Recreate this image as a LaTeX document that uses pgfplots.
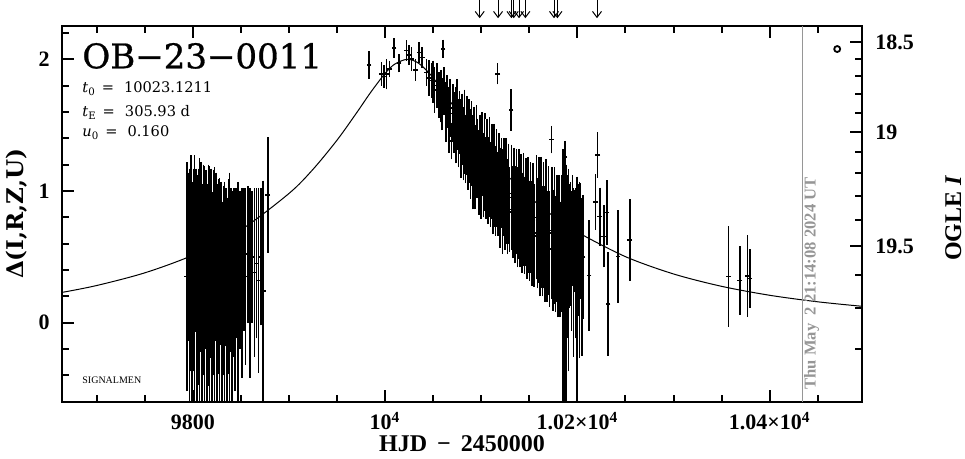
\documentclass[border=0pt]{standalone}
\usepackage{fontspec}
\setmainfont{Liberation Serif}
\newfontfamily\djs{DejaVu Serif}
\newfontfamily\djsfb[FakeBold=0.8]{DejaVu Serif}
\usepackage{pgfplots}
\usepackage{pgfplotstable}
\pgfplotsset{compat=1.18}
\usetikzlibrary{arrows.meta}
\definecolor{stampgray}{RGB}{150,150,150}

\pgfplotstableread{
x y e
9793.8 0.35 0.85
9795.2 0.50 0.62
9796.6 0.25 0.90
9798.0 0.45 0.80
9799.3 0.20 0.85
9800.6 0.40 0.75
9801.9 0.30 0.95
9803.2 0.55 0.60
9804.5 0.20 0.90
9805.8 0.35 0.80
9807.1 0.28 0.95
9808.4 0.50 0.70
9809.7 0.15 0.88
9811.0 0.40 0.78
9812.3 0.25 0.92
9813.6 0.48 0.66
9814.9 0.18 0.85
9816.2 0.36 0.82
9817.5 0.22 0.95
9818.8 0.45 0.70
9820.1 0.12 0.85
9821.4 0.38 0.76
9822.7 0.26 0.90
9824.0 0.50 0.62
9825.3 0.15 0.88
9826.6 0.35 0.72
9827.9 0.22 0.86
9829.2 0.45 0.60
9830.5 0.10 0.80
9831.8 0.32 0.70
9833.1 0.20 0.85
9834.4 0.42 0.58
9835.7 0.15 0.78
9837.0 0.35 0.72
9838.3 0.22 0.90
9839.6 0.40 0.60
9841.0 0.18 0.80
9842.5 0.38 0.62
9844.0 0.25 0.75
9845.6 0.45 0.55
9847.2 0.20 0.85
9849.0 0.40 0.58
9851.0 0.30 0.70
9853.0 0.48 0.52
9855.0 0.35 0.65
9857.2 0.52 0.50
9859.5 0.30 0.70
9861.8 0.50 0.48
9864.0 0.38 0.62
9866.2 0.45 0.55
9868.5 0.32 0.68
9871.0 0.50 0.50
9873.2 0.24 0.82
9878.0 0.97 0.42
9983.3 1.957 0.085
9996.2 1.888 0.070
9998.6 1.869 0.065
10001.4 1.887 0.095
10004.8 1.926 0.044
10009.3 2.087 0.054
10014.5 1.970 0.050
10022.2 2.067 0.057
10024.6 2.033 0.053
10027.4 2.002 0.068
10031.7 1.919 0.063
10035.3 2.052 0.057
10038.6 2.014 0.057
10043.0 1.900 0.082
10045.4 1.858 0.114
10048.2 1.839 0.110
10050.1 1.831 0.140
10051.6 1.767 0.152
10053.7 1.801 0.148
10055.8 1.729 0.152
10057.9 1.72 0.18
10059.4 1.66 0.18
10060.3 2.08 0.05
10061.5 1.76 0.16
10063.1 1.60 0.21
10064.6 1.68 0.18
10066.2 1.54 0.23
10067.8 1.63 0.20
10069.0 1.38 0.12
10070.4 1.59 0.20
10071.9 1.52 0.21
10073.5 1.50 0.27
10075.0 1.58 0.25
10076.4 1.44 0.24
10077.6 1.52 0.22
10078.9 1.40 0.28
10080.1 1.47 0.25
10081.4 1.36 0.26
10082.6 1.45 0.30
10083.8 1.32 0.24
10085.0 1.42 0.28
10086.3 1.30 0.27
10087.5 1.38 0.30
10088.8 1.28 0.32
10090.0 1.36 0.30
10091.2 1.22 0.34
10092.5 1.33 0.29
10093.7 1.18 0.30
10095.0 1.30 0.33
10096.2 1.25 0.28
10097.4 1.14 0.30
10098.7 1.24 0.32
10099.9 1.15 0.34
10101.1 1.28 0.30
10102.3 1.12 0.30
10103.6 1.22 0.35
10104.8 1.10 0.29
10106.0 1.20 0.33
10107.3 1.08 0.31
10108.5 1.18 0.36
10109.7 1.05 0.30
10111.0 1.15 0.34
10112.2 1.02 0.33
10113.4 1.12 0.37
10114.7 1.00 0.32
10115.9 1.10 0.35
10117.1 1.89 0.06
10117.5 0.98 0.30
10118.6 1.08 0.34
10119.8 0.95 0.36
10121.0 1.06 0.32
10122.2 0.92 0.38
10123.5 1.03 0.35
10124.7 0.90 0.33
10125.9 1.00 0.38
10127.2 0.88 0.34
10128.4 0.98 0.36
10129.6 0.86 0.30
10130.9 1.615 0.137
10131.5 0.95 0.38
10132.8 0.84 0.33
10134.0 0.94 0.37
10135.3 0.82 0.35
10136.5 0.92 0.38
10137.8 0.80 0.36
10139.0 0.90 0.40
10140.3 0.78 0.34
10141.5 0.88 0.38
10142.7 0.76 0.36
10144.0 0.86 0.41
10145.2 0.74 0.35
10146.4 0.84 0.39
10147.7 0.72 0.37
10148.9 0.82 0.42
10150.1 0.70 0.36
10151.4 0.80 0.40
10152.6 0.68 0.38
10153.8 0.78 0.41
10155.1 0.66 0.37
10157.5 0.80 0.45
10158.7 0.68 0.40
10160.0 0.78 0.46
10161.2 0.64 0.42
10162.4 0.76 0.48
10163.7 0.62 0.40
10164.9 0.74 0.46
10166.1 0.60 0.42
10167.4 0.72 0.50
10168.6 0.58 0.40
10169.8 0.70 0.47
10171.1 0.56 0.42
10173.0 1.39 0.085
10173.5 0.68 0.48
10174.8 0.55 0.44
10176.0 0.66 0.50
10177.2 0.52 0.42
10178.5 0.64 0.46
10179.7 0.50 0.44
10181.0 0.62 0.48
10182.2 0.48 0.42
10183.4 0.60 0.50
10184.6 0.35 0.95
10185.8 0.30 1.00
10186.8 1.26 0.10
10187.0 0.55 0.55
10188.2 0.28 0.90
10189.4 0.50 0.60
10190.6 0.40 0.75
10191.8 0.58 0.45
10193.0 0.60 0.45
10193.8 0.47 0.51
10195.0 0.70 0.40
10196.0 0.38 0.62
10197.2 0.62 0.37
10198.4 0.45 0.55
10199.6 0.24 0.85
10200.8 0.55 0.48
10202.0 0.40 0.65
10203.2 0.62 0.42
10204.5 0.35 0.58
10205.7 0.50 0.45
10212.1 0.358 0.399
10219.0 0.917 0.190
10221.1 1.273 0.152
10223.2 0.806 0.200
10227.4 0.655 0.216
10230.5 0.837 0.224
10231.8 0.142 0.372
10242.2 0.503 0.330
10254.4 0.628 0.289
10357.3 0.351 0.361
10368.8 0.320 0.239
10376.8 0.355 0.289
10379.2 0.336 0.201
}\obs

\begin{document}
\begin{tikzpicture}
\begin{axis}[
  name=main,
  scale only axis, width=400pt, height=188pt,
  xmin=9664, xmax=10496, ymin=-0.602, ymax=2.253,
  axis line style={line width=1pt},
  tick align=inside,
  major tick length=6pt, minor tick length=3.5pt,
  every tick/.style={black, line width=1pt},
  xtick={9800,10000,10200,10400},
  xticklabels={9800,10\textsuperscript{4},1.02×10\textsuperscript{4},1.04×10\textsuperscript{4}},
  minor xtick={9700,9750,9850,9900,9950,10050,10100,10150,10250,10300,10350,10450},
  ytick={0,1,2}, yticklabels={0,1,2},
  minor ytick={-0.4,-0.2,0.2,0.4,0.6,0.8,1.2,1.4,1.6,1.8,2.2},
  ytick pos=left,
  tick label style={font=\fontsize{11}{13}\selectfont\bfseries},
  xticklabel style={anchor=base, inner sep=0pt, yshift=-14pt},
  yticklabel style={anchor=east, inner sep=0pt, xshift=-6pt},
  xlabel={HJD\, − \,2450000},
  xlabel style={at={(axis description cs:0.5,0)}, anchor=base, yshift=-25pt, inner sep=0pt, font=\fontsize{12}{14}\selectfont\bfseries},
  ylabel={Δ(I,R,Z,U)},
  ylabel style={at={(axis description cs:-0.0475,0.5)}, anchor=base, inner sep=0pt, font=\djs\fontsize{11.5}{13}\selectfont\bfseries},
]
\addplot[black, line width=0.5pt, smooth] coordinates {
(9664,0.2300) (9700,0.2823) (9750,0.3785) (9800,0.5130) (9850,0.7046)
(9900,0.9810) (9925,1.1643) (9950,1.3859) (9970,1.5896) (9985,1.7489)
(10000,1.8930) (10010,1.9631) (10023,2.0000) (10035,1.9695) (10050,1.8600)
(10070,1.6561) (10100,1.3500) (10125,1.1346) (10150,0.9563) (10175,0.8094)
(10200,0.6880) (10250,0.5015) (10300,0.3701) (10350,0.2762) (10400,0.2083)
(10450,0.1587) (10496,0.1247)};
\addplot[black, only marks, mark=-, mark size=1.2pt, mark options={line width=0.8pt},
  error bars/.cd, y dir=both, y explicit,
  error bar style={line width=0.8pt, black},
  error mark options={line width=0.8pt, mark size=1.3pt}]
  table[x=x, y=y, y error=e]{\obs};
\addplot[stampgray, line width=0.6pt] coordinates {(10434,-0.602) (10434,2.253)};
\node[rotate=90, anchor=base west, text=stampgray, inner sep=0pt,
  font=\fontsize{8.3}{10}\selectfont\bfseries] at (axis cs:10447.8,-0.51)
  {Thu May~~2 21:14:08 2024 UT};
\node[anchor=base west, inner sep=0pt, font=\djsfb\fontsize{17}{20}\selectfont]
  at (axis description cs:0.025,0.8875) {OB−23−0011};
\node[anchor=base west, inner sep=0pt, font=\djs\fontsize{7.3}{9}\selectfont]
  at (axis description cs:0.025,0.8218) {\textit{t}\textsubscript{0}\hspace{3pt}=\hspace{5pt}10023.1211};
\node[anchor=base west, inner sep=0pt, font=\djs\fontsize{7.3}{9}\selectfont]
  at (axis description cs:0.025,0.758) {\textit{t}\textsubscript{E}\hspace{3pt}=\hspace{5pt}305.93 d};
\node[anchor=base west, inner sep=0pt, font=\djs\fontsize{7.3}{9}\selectfont]
  at (axis description cs:0.025,0.7048) {\textit{u}\textsubscript{0}\hspace{3pt}=\hspace{5pt}0.160};
\node[anchor=base west, inner sep=0pt, font=\fontsize{5}{6}\selectfont]
  at (axis description cs:0.025,0.0505) {SIGNALMEN};
\end{axis}
\begin{axis}[
  scale only axis, width=400pt, height=188pt,
  xmin=9664, xmax=10496, ymin=-0.602, ymax=2.253,
  axis x line=none, axis y line*=right,
  xtick=\empty, xticklabels={},
  axis line style={line width=1pt, -},
  tick align=inside,
  major tick length=6pt, minor tick length=3.5pt,
  every tick/.style={black, line width=1pt},
  ytick={0.5825,1.448,2.128}, yticklabels={19.5,19,18.5},
  minor ytick={-0.2,0.1133,0.3627,0.782,0.965,1.135,1.296,1.594,1.734,1.8696,2.001},
  yticklabel style={anchor=west, inner sep=0pt, xshift=6.5pt, font=\fontsize{11}{13}\selectfont\bfseries},
  clip=false,
]
\addplot[black, line width=0.5pt, quiver={u=0, v=-0.138},
  -{Straight Barb[length=3pt, width=4.5pt, line width=0.5pt]}]
  coordinates {(10098.4,2.45) (10117.5,2.45) (10131.4,2.45) (10133.8,2.45)
  (10139.3,2.45) (10145.9,2.45) (10175.7,2.45) (10179.2,2.45) (10220.4,2.45)};
\addplot[black, only marks, mark=o, mark size=1.5pt, mark options={line width=0.9pt}]
  coordinates {(10470.2,2.078)};
\node[rotate=90, anchor=base, inner sep=0pt, font=\fontsize{12}{14}\selectfont\bfseries]
  at (axis description cs:1.124,0.489) {OGLE \textit{I}};
\end{axis}
\pgfresetboundingbox
\path (main.south west) ++(-31pt,-28.5pt) rectangle ++(482.5pt,229.5pt);
\end{tikzpicture}
\end{document}
